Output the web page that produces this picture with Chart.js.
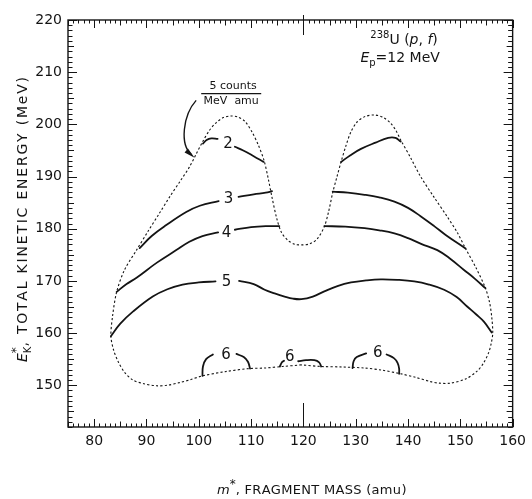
<!DOCTYPE html>
<html>
<head>
<meta charset="utf-8">
<script src="https://cdn.jsdelivr.net/npm/chart.js@4/dist/chart.umd.min.js"></script>
<style>
  html, body { margin: 0; padding: 0; background: #fff; }
  #plot { display: block; }
</style>
</head>
<body>
<canvas id="plot" width="532" height="499"></canvas>
<script>
// ---- axis ticks ----
const massTicks = [80, 90, 100, 110, 120, 130, 140, 150, 160];
const energyTicks = [150, 160, 170, 180, 190, 200, 210, 220];

// ---- outer (dashed) boundary of the yield distribution: [mass, energy] ----
const envelope = [
  [119.6,153.9],[116.0,153.6],[112.6,153.3],[109.6,153.2],[105.0,152.6],[100.7,151.8],
  [98.5,151.1],[96.3,150.5],[94.0,150.0],[91.9,149.9],[89.5,150.3],[87.4,151.0],
  [85.8,152.5],[84.6,154.5],[83.7,156.8],[83.2,159.4],[83.5,163.1],[84.3,167.9],
  [85.8,172.1],[88.1,175.9],[90.3,179.5],[92.5,183.0],[94.5,186.2],[96.5,189.2],
  [98.2,191.8],[99.5,194.3],[100.7,196.6],[102.0,198.8],[103.3,200.3],[104.7,201.3],
  [106.1,201.6],[107.5,201.4],[108.8,200.6],[110.2,198.5],[111.4,196.0],[112.5,193.0],
  [113.3,189.5],[114.0,186.0],[114.9,182.0],[115.8,179.3],[117.0,177.8],[118.4,177.0],
  [119.8,176.9],[121.2,177.1],[122.6,178.0],[124.0,180.4],[124.8,183.2],[125.6,186.9],
  [126.4,189.9],[127.2,192.8],[128.1,195.8],[129.1,198.6],[130.3,200.5],[131.8,201.5],
  [133.6,201.8],[135.3,201.3],[136.7,200.2],[137.7,198.8],[138.6,197.0],[140.5,193.6],
  [142.4,190.0],[145.0,186.0],[147.5,182.3],[149.4,179.3],[151.0,176.2],[153.0,172.5],
  [154.8,168.6],[155.6,165.8],[156.0,163.1],[156.2,160.0],[155.9,158.0],[155.4,156.2],
  [154.4,154.2],[153.2,152.7],[151.0,151.2],[148.1,150.4],[146.0,150.4],[144.3,150.7],
  [141.5,151.5],[138.6,152.2],[135.0,152.9],[131.7,153.3],[127.5,153.5],[123.4,153.6],
  [119.6,153.9]
];

// ---- contour lines (null = break where the level number sits) ----
const contour2Left = [
  [100.8,196.3],[101.5,197.0],[102.4,197.3],[103.6,197.2], null,
  [106.9,195.7],[108.5,195.0],[110.5,193.9],[112.4,192.8]
];
const contour2Right = [
  [127.2,192.8],[129.0,194.1],[131.0,195.3],[133.8,196.5],[136.2,197.4],[137.6,197.4],[138.6,196.7]
];
const contour3Left = [
  [88.7,176.3],[91.0,178.6],[93.8,180.7],[97.6,183.2],[100.2,184.4],[103.8,185.3], null,
  [107.6,186.1],[110.5,186.6],[112.8,186.9],[114.0,187.2]
];
const contour3Right = [
  [125.6,187.1],[128.5,186.9],[131.7,186.5],[134.5,186.0],[137.4,185.2],[140.0,184.0],
  [142.4,182.4],[145.0,180.5],[147.2,178.8],[151.0,176.2]
];
const contour4Left = [
  [84.3,167.9],[86.2,169.4],[88.1,170.6],[92.0,173.5],[95.7,175.9],[98.2,177.5],
  [100.7,178.6],[103.7,179.3], null,
  [106.9,179.8],[110.0,180.3],[112.8,180.5],[115.4,180.5]
];
const contour4Right = [
  [124.0,180.5],[128.0,180.4],[131.7,180.1],[134.5,179.7],[137.4,179.1],[140.0,178.2],
  [142.5,177.1],[145.6,175.9],[148.0,174.3],[150.7,172.1],[152.8,170.4],[154.8,168.6]
];
const contour5 = [
  [83.2,159.4],[85.0,161.8],[87.4,164.1],[91.2,167.0],[94.0,168.4],[96.9,169.3],
  [100.0,169.7],[103.2,169.9], null,
  [107.7,170.0],[110.5,169.4],[112.6,168.3],[114.5,167.6],[116.4,167.0],[118.0,166.6],
  [119.6,166.5],[121.8,167.0],[124.0,168.0],[126.5,169.0],[129.1,169.7],[132.0,170.1],
  [134.8,170.3],[138.0,170.2],[141.2,169.9],[144.0,169.3],[146.9,168.3],[149.3,166.9],
  [151.3,165.1],[153.0,163.6],[154.5,162.2],[156.0,160.1]
];
const contour6Left = [
  [100.7,151.8],[100.8,153.6],[101.4,155.0],[102.7,155.9], null,
  [107.2,156.0],[108.6,155.4],[109.4,154.5],[109.8,153.2]
];
const contour6Mid = [
  [115.5,153.6],[115.9,154.4],[116.3,154.7], null,
  [119.0,154.6],[120.5,154.8],[122.1,154.8],[123.0,154.4],[123.4,153.6]
];
const contour6Right = [
  [129.4,153.3],[129.6,154.6],[130.2,155.4],[132.0,156.1], null,
  [135.9,155.9],[137.3,155.2],[138.0,154.3],[138.3,153.2],[138.3,152.2]
];

// ---- level numbers written on the contours ----
const labelLevel  = [2, 3, 4, 5, 6, 6, 6];
const labelMass   = [105.6, 105.7, 105.3, 105.3, 105.2, 117.4, 134.2];
const labelEnergy = [196.3, 185.6, 179.2, 169.7, 155.8, 155.4, 156.1];

const INK = '#141414';
const FONT = '"DejaVu Sans", "Liberation Sans", sans-serif';

// split a polyline at null entries into separate pieces
function pieces(arr) {
  const out = [];
  let cur = [];
  for (const p of arr) {
    if (p === null) { if (cur.length) out.push(cur); cur = []; }
    else cur.push({ x: p[0], y: p[1] });
  }
  if (cur.length) out.push(cur);
  return out;
}

const datasets = [];
datasets.push({
  data: pieces(envelope)[0], showLine: true, borderColor: INK, borderWidth: 1.1,
  borderDash: [2.2, 2.2], pointRadius: 0, tension: 0.3
});
[contour2Left, contour2Right, contour3Left, contour3Right, contour4Left, contour4Right,
 contour5, contour6Left, contour6Mid, contour6Right].forEach(c => {
  pieces(c).forEach(seg => datasets.push({
    data: seg, showLine: true, borderColor: INK, borderWidth: 1.8,
    pointRadius: 0, tension: 0.4, borderCapStyle: 'round'
  }));
});

// draw text made of runs (italic, super/subscripts), optionally spread to a width
function drawRuns(ctx, runs, x0, y0, angle, targetWidth, align) {
  let w = 0, n = 0;
  for (const r of runs) {
    ctx.font = r.font;
    r.w = ctx.measureText(r.t).width;
    if (!r.stack) w += r.w;
    if (r.spread) n += r.t.length;
  }
  const extra = (targetWidth && n) ? (targetWidth - w) / n : 0;
  const total = targetWidth || w;
  ctx.save();
  ctx.translate(x0, y0);
  ctx.rotate(angle);
  ctx.textAlign = 'left';
  ctx.textBaseline = 'alphabetic';
  let cx = align === 'center' ? -total / 2 : 0;
  for (const r of runs) {
    ctx.font = r.font;
    if (r.spread) {
      for (const ch of r.t) {
        ctx.fillText(ch, cx, r.dy || 0);
        cx += ctx.measureText(ch).width + extra;
      }
    } else {
      ctx.fillText(r.t, cx, r.dy || 0);
      if (!r.stack) cx += r.w;
    }
  }
  ctx.restore();
}

const decor = {
  id: 'decor',
  afterDatasetsDraw(chart) {
    const { ctx, chartArea: a, scales: { x, y } } = chart;
    ctx.save();
    ctx.fillStyle = INK;
    ctx.strokeStyle = INK;

    // frame
    ctx.lineWidth = 1.4;
    ctx.strokeRect(a.left, a.top, a.right - a.left, a.bottom - a.top);

    // inward ticks on all four sides
    ctx.lineWidth = 1;
    ctx.beginPath();
    for (let v = Math.ceil(x.min); v <= x.max; v++) {
      const px = Math.round(x.getPixelForValue(v)) + 0.5;
      const len = v % 10 === 0 ? 8 : (v % 5 === 0 ? 5.5 : 3.5);
      ctx.moveTo(px, a.bottom); ctx.lineTo(px, a.bottom - len);
      ctx.moveTo(px, a.top); ctx.lineTo(px, a.top + len);
    }
    for (let v = Math.ceil(y.min); v <= y.max; v++) {
      const py = Math.round(y.getPixelForValue(v)) + 0.5;
      const len = v % 10 === 0 ? 9 : (v % 5 === 0 ? 6 : 4.5);
      ctx.moveTo(a.left, py); ctx.lineTo(a.left + len, py);
      ctx.moveTo(a.right, py); ctx.lineTo(a.right - len, py);
    }
    // symmetric-fission marker at A = 120
    const sym = Math.round(x.getPixelForValue(120)) + 0.5;
    ctx.moveTo(sym, a.top - 5); ctx.lineTo(sym, a.top + 15);
    ctx.moveTo(sym, a.bottom - 24); ctx.lineTo(sym, a.bottom);
    ctx.stroke();

    // contour level numbers
    ctx.font = '15px ' + FONT;
    ctx.textAlign = 'center';
    ctx.textBaseline = 'middle';
    labelLevel.forEach((lv, i) => {
      ctx.fillText(String(lv), x.getPixelForValue(labelMass[i]), y.getPixelForValue(labelEnergy[i]));
    });

    // reaction annotation
    drawRuns(ctx, [
      { t: '238', font: '10px ' + FONT, dy: -6 },
      { t: 'U (', font: '14px ' + FONT },
      { t: 'p', font: 'italic 14px ' + FONT },
      { t: ', ', font: '14px ' + FONT },
      { t: 'f', font: 'italic 14px ' + FONT },
      { t: ')', font: '14px ' + FONT }
    ], x.getPixelForValue(132.8), y.getPixelForValue(215.4), 0, 0, 'left');
    drawRuns(ctx, [
      { t: 'E', font: 'italic 14px ' + FONT },
      { t: 'p', font: '10px ' + FONT, dy: 4 },
      { t: '=12 MeV', font: '14px ' + FONT }
    ], x.getPixelForValue(130.9), y.getPixelForValue(212.0), 0, 0, 'left');

    // contour unit: 5 counts / (MeV amu)
    const fx = x.getPixelForValue(106.2), fy = y.getPixelForValue(205.9);
    ctx.font = '11px ' + FONT;
    ctx.textAlign = 'center';
    ctx.textBaseline = 'alphabetic';
    ctx.fillText('5 counts', fx + 2, fy - 5);
    ctx.fillText('MeV  amu', fx, fy + 10);
    ctx.lineWidth = 1.2;
    ctx.beginPath();
    ctx.moveTo(fx - 30, fy); ctx.lineTo(fx + 30, fy);
    ctx.stroke();

    // curved arrow onto the boundary
    const p0 = [x.getPixelForValue(99.5), y.getPixelForValue(204.6)];
    const c1 = [x.getPixelForValue(97.0), y.getPixelForValue(201.8)];
    const c2 = [x.getPixelForValue(96.3), y.getPixelForValue(196.1)];
    const p1 = [x.getPixelForValue(99.2), y.getPixelForValue(193.6)];
    ctx.lineWidth = 1.4;
    ctx.beginPath();
    ctx.moveTo(p0[0], p0[1]);
    ctx.bezierCurveTo(c1[0], c1[1], c2[0], c2[1], p1[0] - 3, p1[1] - 3);
    ctx.stroke();
    const ang = Math.atan2(p1[1] - c2[1], p1[0] - c2[0]);
    ctx.beginPath();
    ctx.moveTo(p1[0], p1[1]);
    ctx.lineTo(p1[0] - 11 * Math.cos(ang) + 2.6 * Math.sin(ang), p1[1] - 11 * Math.sin(ang) - 2.6 * Math.cos(ang));
    ctx.lineTo(p1[0] - 11 * Math.cos(ang) - 2.6 * Math.sin(ang), p1[1] - 11 * Math.sin(ang) + 2.6 * Math.cos(ang));
    ctx.closePath();
    ctx.fill();

    // axis titles
    const yMid = (a.top + a.bottom) / 2 - 4;
    drawRuns(ctx, [
      { t: 'E', font: 'italic 14px ' + FONT },
      { t: '*', font: '12px ' + FONT, dy: -7, stack: true },
      { t: 'K', font: '10px ' + FONT, dy: 4 },
      { t: ', TOTAL KINETIC ENERGY (MeV)', font: '14px ' + FONT, spread: true }
    ], 27, yMid, -Math.PI / 2, 285, 'center');
    drawRuns(ctx, [
      { t: 'm', font: 'italic 13px ' + FONT },
      { t: '*', font: '12px ' + FONT, dy: -6 },
      { t: ', FRAGMENT MASS (amu)', font: '13px ' + FONT, spread: true }
    ], 311.5, 494, 0, 189, 'center');

    ctx.restore();
  }
};

Chart.defaults.font.family = FONT;
Chart.defaults.color = INK;

new Chart(document.getElementById('plot'), {
  type: 'scatter',
  data: { datasets },
  options: {
    responsive: false,
    animation: false,
    devicePixelRatio: 1,
    layout: { padding: { top: 20, right: 17, left: 0, bottom: 0 } },
    plugins: { legend: { display: false }, tooltip: { enabled: false } },
    scales: {
      x: {
        type: 'linear', min: 75, max: 160,
        grid: { display: false, drawTicks: false },
        border: { display: false },
        ticks: { font: { size: 14 }, color: INK, padding: 6, maxRotation: 0, autoSkip: false },
        afterBuildTicks: s => { s.ticks = massTicks.map(v => ({ value: v })); },
        afterFit: s => { s.height = 72; }
      },
      y: {
        type: 'linear', min: 142, max: 220,
        grid: { display: false, drawTicks: false },
        border: { display: false },
        ticks: { font: { size: 14 }, color: INK, padding: 6, autoSkip: false },
        afterBuildTicks: s => { s.ticks = energyTicks.map(v => ({ value: v })); },
        afterFit: s => { s.width = 68; }
      }
    }
  },
  plugins: [decor]
});
</script>
</body>
</html>
